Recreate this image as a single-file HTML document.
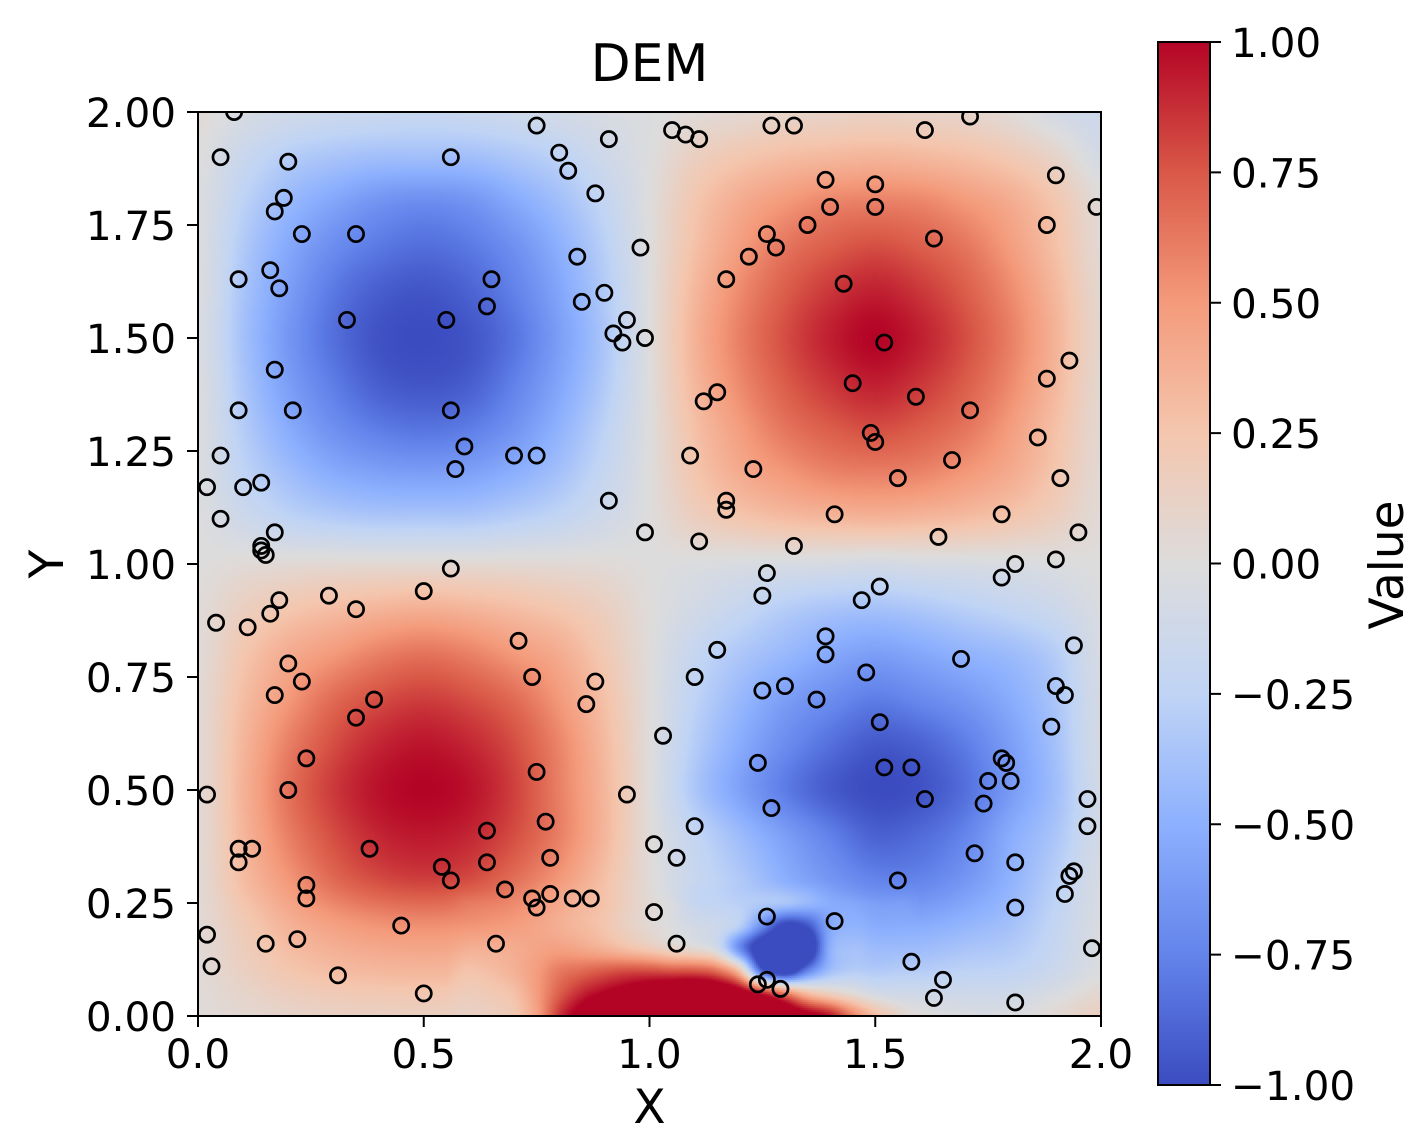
<!DOCTYPE html>
<html lang="en">
<head>
<meta charset="utf-8">
<title>DEM</title>
<style>
html,body{margin:0;padding:0;background:#fff;}
#figure{position:relative;width:1427px;height:1147px;overflow:hidden;background:#fff;}
#dem-canvas{position:absolute;left:198px;top:112px;width:903px;height:904px;}
#chart{position:absolute;left:0;top:0;}
text{font-family:"DejaVu Sans","Liberation Sans",sans-serif;fill:#000;}
</style>
</head>
<body>
<div id="figure">
<canvas id="dem-canvas" width="903" height="904"></canvas>
<svg id="chart" width="1427" height="1147" xmlns="http://www.w3.org/2000/svg">
<defs>
<clipPath id="axes-clip"><rect x="198" y="112" width="903" height="904"/></clipPath>
<linearGradient id="cbar-gradient" x1="0" y1="1" x2="0" y2="0"></linearGradient>
</defs>
<g id="points" clip-path="url(#axes-clip)"></g>
<rect x="198" y="112" width="903" height="904" fill="none" stroke="#000" stroke-width="2"/>
<g id="x-ticks"></g>
<g id="y-ticks"></g>
<text x="649.5" y="81" font-size="52" text-anchor="middle">DEM</text>
<text x="649.5" y="1123" font-size="47" text-anchor="middle">X</text>
<text transform="translate(63,564) rotate(-90)" font-size="47" text-anchor="middle">Y</text>
<rect x="1158" y="42" width="52" height="1043" fill="url(#cbar-gradient)" stroke="#000" stroke-width="2"/>
<g id="cbar-ticks"></g>
<text transform="translate(1403,565) rotate(-90)" font-size="47" text-anchor="middle">Value</text>
</svg>
</div>
<script>
// Chart data
const pointsX = [.08,.75,.05,.20,.56,.80,.82,.91,1.05,1.08,1.11,1.27,1.32,1.61,1.71,1.90,.88,.19,.17,1.39,1.50,1.40,1.50,1.99,1.35,1.88,.23,.35,1.26,1.63,.98,1.28,1.22,.84,.16,.09,.65,1.17,1.43,.18,.90,.85,.64,.33,.55,.95,.92,.99,.94,1.52,1.93,.17,1.88,1.45,1.15,1.59,1.12,.09,.21,.56,1.71,1.49,1.50,1.86,.59,.05,.70,.75,1.09,1.67,.57,1.23,1.55,1.91,.02,.10,.14,.91,1.17,1.17,.05,1.41,1.78,.17,.99,1.95,1.11,1.64,1.32,.14,.14,.15,.56,1.90,1.81,1.26,1.78,1.51,.50,1.25,.29,.18,1.47,.35,.16,.04,.11,1.39,.71,1.94,1.15,1.39,1.69,.20,1.48,.74,1.10,.23,.88,1.30,1.90,1.25,.17,1.92,.39,1.37,.86,.35,1.51,1.89,1.03,1.24,1.78,1.79,.24,.75,1.52,1.58,1.75,1.80,.02,.20,.95,1.97,1.61,1.27,1.74,.77,1.10,1.97,.64,1.01,.09,.12,.38,1.72,.09,.78,1.06,.64,1.81,.54,1.94,1.93,.56,1.55,.24,.68,.78,1.92,.24,.74,.83,.87,.75,1.81,1.01,1.26,1.41,.45,.02,.22,.15,.66,1.06,1.98,1.58,.03,.31,1.26,1.65,1.24,1.29,.50,1.63,1.81];
const pointsY = [2.00,1.97,1.90,1.89,1.90,1.91,1.87,1.94,1.96,1.95,1.94,1.97,1.97,1.96,1.99,1.86,1.82,1.81,1.78,1.85,1.84,1.79,1.79,1.79,1.75,1.75,1.73,1.73,1.73,1.72,1.70,1.70,1.68,1.68,1.65,1.63,1.63,1.63,1.62,1.61,1.60,1.58,1.57,1.54,1.54,1.54,1.51,1.50,1.49,1.49,1.45,1.43,1.41,1.40,1.38,1.37,1.36,1.34,1.34,1.34,1.34,1.29,1.27,1.28,1.26,1.24,1.24,1.24,1.24,1.23,1.21,1.21,1.19,1.19,1.17,1.17,1.18,1.14,1.14,1.12,1.10,1.11,1.11,1.07,1.07,1.07,1.05,1.06,1.04,1.04,1.03,1.02,.99,1.01,1.00,.98,.97,.95,.94,.93,.93,.92,.92,.90,.89,.87,.86,.84,.83,.82,.81,.80,.79,.78,.76,.75,.75,.74,.74,.73,.73,.72,.71,.71,.70,.70,.69,.66,.65,.64,.62,.56,.57,.56,.57,.54,.55,.55,.52,.52,.49,.50,.49,.48,.48,.46,.47,.43,.42,.42,.41,.38,.37,.37,.37,.36,.34,.35,.35,.34,.34,.33,.32,.31,.30,.30,.29,.28,.27,.27,.26,.26,.26,.26,.24,.24,.23,.22,.21,.20,.18,.17,.16,.16,.16,.15,.12,.11,.09,.08,.08,.07,.06,.05,.04,.03];

const xTickValues = [0,0.5,1,1.5,2];
const xTickLabels = ["0.0","0.5","1.0","1.5","2.0"];
const yTickValues = [0,0.25,0.5,0.75,1,1.25,1.5,1.75,2];
const yTickLabels = ["0.00","0.25","0.50","0.75","1.00","1.25","1.50","1.75","2.00"];
const cbarTickValues = [-1,-0.75,-0.5,-0.25,0,0.25,0.5,0.75,1];
const cbarTickLabels = ["\u22121.00","\u22120.75","\u22120.50","\u22120.25","0.00","0.25","0.50","0.75","1.00"];

// Field values on a coarse 0.1 lattice: rows run y = 0 to 2, columns x = 0 to 2
const fieldRows = [
[.02,.06,.10,.13,.14,.15,.14,.14,.12,.10,.08,.08,.10,.12,.14,.14,.02,-.04,-.03,.05,.15],
[.03,.14,.24,.30,.33,.34,.33,.30,.24,.15,.03,-.18,-.28,-.30,-.30,-.32,-.30,-.26,-.24,-.15,-.02],
[.04,.20,.36,.46,.52,.54,.52,.46,.36,.20,.03,-.14,-.22,-.35,-.46,-.52,-.52,-.46,-.38,-.22,-.04],
[.04,.30,.50,.68,.78,.82,.78,.66,.50,.28,.03,-.18,-.32,-.50,-.64,-.74,-.74,-.64,-.48,-.28,-.06],
[.04,.34,.60,.78,.90,.94,.90,.78,.60,.34,.02,-.22,-.42,-.60,-.76,-.90,-.86,-.74,-.52,-.35,-.09],
[.04,.36,.65,.84,.96,1.00,.96,.82,.60,.34,.01,-.34,-.58,-.78,-.93,-1.00,-.97,-.84,-.62,-.40,-.10],
[.04,.34,.60,.78,.90,.95,.90,.78,.58,.32,.01,-.30,-.52,-.70,-.84,-.94,-.90,-.78,-.60,-.38,-.08],
[.04,.30,.50,.68,.78,.83,.78,.68,.50,.28,.01,-.25,-.44,-.60,-.70,-.78,-.72,-.64,-.52,-.35,-.08],
[.03,.24,.40,.50,.60,.65,.60,.50,.40,.22,.01,-.20,-.34,-.44,-.54,-.60,-.55,-.48,-.42,-.30,-.06],
[.02,.15,.24,.30,.35,.38,.35,.30,.24,.15,.01,-.10,-.20,-.30,-.36,-.38,-.34,-.28,-.22,-.15,-.04],
[0,.03,.04,.05,.05,.05,.05,.05,.04,.03,0,-.02,-.04,-.05,-.06,-.08,-.06,-.05,-.04,-.02,0],
[-.01,-.13,-.24,-.30,-.33,-.33,-.33,-.28,-.22,-.12,0,.15,.24,.30,.33,.35,.33,.30,.24,.15,.03],
[-.02,-.24,-.40,-.52,-.58,-.60,-.58,-.50,-.38,-.20,0,.24,.40,.50,.58,.60,.58,.50,.40,.24,.05],
[-.02,-.30,-.52,-.68,-.78,-.82,-.78,-.66,-.48,-.26,0,.28,.48,.64,.73,.78,.73,.64,.48,.28,.06],
[-.02,-.35,-.60,-.78,-.92,-.96,-.92,-.76,-.56,-.32,0,.33,.56,.73,.85,.92,.85,.73,.56,.33,.07],
[-.03,-.38,-.64,-.84,-.97,-1.00,-.96,-.82,-.60,-.35,0,.36,.60,.78,.92,1.00,.92,.78,.60,.36,.08],
[-.02,-.36,-.60,-.80,-.92,-.96,-.90,-.76,-.56,-.32,0,.33,.56,.73,.85,.92,.85,.73,.56,.33,.07],
[-.02,-.32,-.54,-.70,-.80,-.85,-.80,-.68,-.50,-.28,0,.28,.48,.64,.73,.78,.73,.64,.48,.28,.05],
[-.02,-.26,-.44,-.56,-.66,-.70,-.66,-.54,-.40,-.22,0,.24,.40,.50,.58,.60,.58,.50,.40,.24,.03],
[0,-.17,-.30,-.36,-.40,-.40,-.40,-.34,-.26,-.13,-.01,.15,.24,.30,.33,.35,.33,.29,.22,.10,-.08],
[.03,-.06,-.12,-.16,-.18,-.20,-.18,-.15,-.10,-.06,-.02,.03,.06,.10,.12,.14,.12,.10,.03,-.08,-.15]
];

// Finer readings around the bottom disturbance: rows y = 0 to 0.3 (step 0.05), columns x = 0.55 to 1.6 (step 0.05)
const detailRows = [
[.10,.12,.15,.22,.45,.85,1.10,1.35,1.50,1.55,1.60,1.60,1.60,1.50,1.40,1.25,1.10,.95,.60,.30,.12,-.02],
[.16,.18,.22,.28,.48,.72,.90,1.02,1.12,1.22,1.32,1.35,1.30,1.15,.92,.62,.30,.15,.03,-.08,-.12,-.14],
[.24,.26,.30,.37,.48,.62,.68,.74,.78,.78,.75,.75,.65,.25,-.90,-1.20,-.75,-.40,-.30,-.32,-.30,-.28],
[.38,.38,.38,.40,.44,.46,.42,.36,.28,.20,.10,.04,-.10,-.70,-1.20,-1.30,-1.25,-.50,-.38,-.42,-.42,-.40],
[.52,.52,.50,.48,.44,.38,.32,.25,.14,.05,-.02,-.10,-.15,-.28,-.70,-1.05,-.95,-.55,-.48,-.52,-.52,-.50],
[.64,.62,.60,.56,.50,.42,.34,.27,.15,.05,-.04,-.20,-.24,-.28,-.32,-.35,-.44,-.52,-.55,-.60,-.60,-.56],
[.80,.76,.72,.64,.54,.44,.36,.28,.15,.03,-.13,-.28,-.32,-.38,-.38,-.42,-.48,-.58,-.68,-.74,-.74,-.74]
];

// Colormap anchors (coolwarm)
const colormapStops = ["#3b4cc0","#6384eb","#8db0fe","#c0d4f5","#dddcdc","#f4c6ae","#f49a7b","#d95847","#b40426"];

const SVG_NS = "http://www.w3.org/2000/svg";
const plot = {left:198, right:1101, top:112, bottom:1016};
const cbar = {left:1158, right:1210, top:42, bottom:1085};

function xScale(v){ return plot.left + (v/2)*(plot.right-plot.left); }
function yScale(v){ return plot.bottom - (v/2)*(plot.bottom-plot.top); }
function cbarScale(v){ return cbar.bottom - ((v+1)/2)*(cbar.bottom-cbar.top); }

function hexToRgb(h){ return [parseInt(h.slice(1,3),16),parseInt(h.slice(3,5),16),parseInt(h.slice(5,7),16)]; }
const colormapRgb = colormapStops.map(hexToRgb);
function colorFor(v){
  const t = Math.max(0,Math.min(1,(v+1)/2))*(colormapRgb.length-1);
  const i = Math.min(colormapRgb.length-2,Math.floor(t));
  const f = t-i, a = colormapRgb[i], b = colormapRgb[i+1];
  return [a[0]+(b[0]-a[0])*f, a[1]+(b[1]-a[1])*f, a[2]+(b[2]-a[2])*f];
}

function catmull(p0,p1,p2,p3,t){
  return 0.5*((2*p1)+(-p0+p2)*t+(2*p0-5*p1+4*p2-p3)*t*t+(-p0+3*p1-3*p2+p3)*t*t*t);
}
function sampleField(x,y){
  const gx = x/0.1, gy = y/0.1;
  const n = fieldRows.length-1, m = fieldRows[0].length-1;
  const ix = Math.min(m-1,Math.floor(gx)), iy = Math.min(n-1,Math.floor(gy));
  const tx = gx-ix, ty = gy-iy, col = [];
  for(let r=-1;r<=2;r++){
    const row = fieldRows[Math.max(0,Math.min(n,iy+r))];
    col.push(catmull(row[Math.max(0,ix-1)],row[ix],row[ix+1],row[Math.min(m,ix+2)],tx));
  }
  return catmull(col[0],col[1],col[2],col[3],ty);
}
function sampleDetail(x,y){
  const gx = (x-0.55)/0.05, gy = y/0.05;
  const n = detailRows.length-1, m = detailRows[0].length-1;
  const ix = Math.max(0,Math.min(m-1,Math.floor(gx))), iy = Math.max(0,Math.min(n-1,Math.floor(gy)));
  const tx = gx-ix, ty = gy-iy;
  const rowAt = function(r){
    return catmull(detailRows[r][Math.max(0,ix-1)],detailRows[r][ix],detailRows[r][ix+1],detailRows[r][Math.min(m,ix+2)],tx);
  };
  return catmull(rowAt(Math.max(0,iy-1)),rowAt(iy),rowAt(iy+1),rowAt(Math.min(n,iy+2)),ty);
}
function fieldValue(x,y){
  const base = sampleField(x,y);
  if(x<=0.55||x>=1.6||y>=0.3) return base;
  const w = Math.min(1,Math.min(x-0.55,1.6-x,0.3-y)/0.05);
  return base*(1-w)+sampleDetail(x,y)*w;
}

// Heatmap
(function drawHeatmap(){
  const canvas = document.getElementById("dem-canvas");
  const ctx = canvas.getContext("2d");
  const W = canvas.width, H = canvas.height;
  const img = ctx.createImageData(W,H);
  const cell = 2;
  for(let py=0;py<H;py+=cell){
    for(let px=0;px<W;px+=cell){
      const x = (px+cell/2)/W*2, y = 2-(py+cell/2)/H*2;
      const c = colorFor(fieldValue(x,y));
      for(let dy=0;dy<cell&&py+dy<H;dy++){
        for(let dx=0;dx<cell&&px+dx<W;dx++){
          const k = ((py+dy)*W+px+dx)*4;
          img.data[k]=c[0]; img.data[k+1]=c[1]; img.data[k+2]=c[2]; img.data[k+3]=255;
        }
      }
    }
  }
  ctx.putImageData(img,0,0);
})();

function svgEl(tag,attrs,parent){
  const el = document.createElementNS(SVG_NS,tag);
  for(const k in attrs) el.setAttribute(k,attrs[k]);
  parent.appendChild(el);
  return el;
}

// Scatter points
const pointsGroup = document.getElementById("points");
pointsX.forEach(function(px,i){
  const dot = svgEl("circle",{cx:xScale(px),cy:yScale(pointsY[i]),r:7.6,fill:"none",stroke:"#000","stroke-width":2.7},pointsGroup);
  
  
});

// X ticks
const xTicksGroup = document.getElementById("x-ticks");
xTickValues.forEach(function(v,i){
  const line = svgEl("line",{x1:xScale(v),x2:xScale(v),y1:plot.bottom,y2:plot.bottom+11,stroke:"#000","stroke-width":2},xTicksGroup);
  
  
  const label = svgEl("text",{x:xScale(v),y:1068,"font-size":40.5,"text-anchor":"middle"},xTicksGroup);
  label.textContent = xTickLabels[i];
  
  
});

// Y ticks
const yTicksGroup = document.getElementById("y-ticks");
yTickValues.forEach(function(v,i){
  const line = svgEl("line",{x1:plot.left-11,x2:plot.left,y1:yScale(v),y2:yScale(v),stroke:"#000","stroke-width":2},yTicksGroup);
  
  
  const label = svgEl("text",{x:176,y:yScale(v)+15,"font-size":40.5,"text-anchor":"end"},yTicksGroup);
  label.textContent = yTickLabels[i];
  
  
});

// Colorbar gradient and ticks
const gradient = document.getElementById("cbar-gradient");
colormapStops.forEach(function(c,i){
  svgEl("stop",{offset:(i/(colormapStops.length-1)),"stop-color":c},gradient);
});
const cbarTicksGroup = document.getElementById("cbar-ticks");
cbarTickValues.forEach(function(v,i){
  const line = svgEl("line",{x1:cbar.right,x2:cbar.right+11,y1:cbarScale(v),y2:cbarScale(v),stroke:"#000","stroke-width":2},cbarTicksGroup);
  
  
  const label = svgEl("text",{x:1231,y:cbarScale(v)+15,"font-size":40.5,"text-anchor":"start"},cbarTicksGroup);
  label.textContent = cbarTickLabels[i];
  
  
});
</script>
</body>
</html>
